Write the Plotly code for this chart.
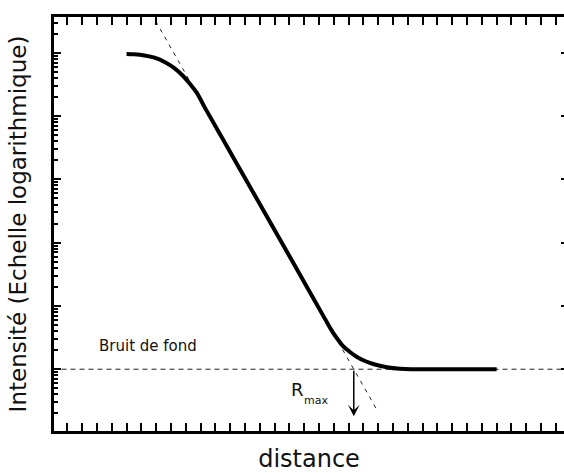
import plotly.graph_objects as go
import numpy as np

# ---- data ----
curve_x = [1.0, 1.108, 1.244, 1.379, 1.514, 1.650, 1.758, 1.853, 1.948, 2.056,
           2.3, 2.6, 2.9, 3.2, 3.5, 3.679, 3.787, 3.855, 3.923, 4.018, 4.113,
           4.221, 4.356, 4.518, 4.694, 4.897, 5.4, 6.0]
curve_log = [5.98, 5.975, 5.956, 5.921, 5.853, 5.754, 5.640, 5.513, 5.368, 5.136,
             4.636, 4.020, 3.403, 2.787, 2.170, 1.799, 1.583, 1.469, 1.367, 1.272, 1.193,
             1.130, 1.074, 1.030, 1.006, 1.0, 1.0, 1.0]
curve_y = [10 ** v for v in curve_log]

background = 10.0            # bruit de fond
tangent_x = [1.394, 4.380]
tangent_y = [10 ** 6.498, 10 ** 0.363]
r_max = 4.07
arrow_tip = 1.8

x_range = [0.02, 6.91]
y_range_log = [0.024, 6.564]

FONT = "DejaVu Sans"
INK = "#111111"

fig = go.Figure()

fig.add_trace(go.Scatter(x=[0, 7], y=[background, background], mode="lines",
                         line=dict(color="#222222", width=1, dash="5px,4px"),
                         hoverinfo="skip", showlegend=False))
fig.add_trace(go.Scatter(x=tangent_x, y=tangent_y, mode="lines",
                         line=dict(color="#222222", width=1, dash="4px,5px"),
                         hoverinfo="skip", showlegend=False))
fig.add_trace(go.Scatter(x=curve_x, y=curve_y, mode="lines",
                         line=dict(color="black", width=4, shape="spline", smoothing=1.0),
                         hoverinfo="skip", showlegend=False))
# hidden trace to carry the right-hand tick axis
fig.add_trace(go.Scatter(x=[None], y=[None], yaxis="y2", mode="lines",
                         hoverinfo="skip", showlegend=False))

fig.add_annotation(x=r_max, y=np.log10(arrow_tip), ax=r_max, ay=np.log10(background),
                   xref="x", yref="y", axref="x", ayref="y", text="", showarrow=True,
                   arrowhead=3, arrowsize=1.3, arrowwidth=1.5, arrowcolor="black")
fig.add_annotation(x=0.607, y=1.366, xref="x", yref="y", text="Bruit de fond",
                   showarrow=False, xanchor="left", yanchor="middle",
                   font=dict(family=FONT, size=15, color=INK))
fig.add_annotation(x=3.19, y=0.68, xref="x", yref="y", text="R",
                   showarrow=False, xanchor="left", yanchor="middle",
                   font=dict(family=FONT, size=18, color=INK))
fig.add_annotation(x=3.37, y=0.50, xref="x", yref="y", text="max",
                   showarrow=False, xanchor="left", yanchor="middle",
                   font=dict(family=FONT, size=11, color=INK))

fig.update_layout(
    width=564, height=473,
    margin=dict(l=54, r=0, t=17, b=42),
    plot_bgcolor="white", paper_bgcolor="white",
    xaxis=dict(range=x_range, showgrid=False, zeroline=False,
               showline=True, linewidth=3, linecolor="black", mirror="allticks",
               ticks="inside", ticklen=8, tickwidth=2, tickcolor="black", dtick=1, tick0=0,
               showticklabels=False,
               minor=dict(ticks="inside", ticklen=4, tickwidth=2, tickcolor="black", dtick=0.2),
               title=dict(text="distance", standoff=20,
                          font=dict(family=FONT, size=24, color=INK))),
    yaxis=dict(type="log", range=y_range_log, showgrid=False, zeroline=False,
               showline=True, linewidth=3, linecolor="black",
               ticks="inside", ticklen=7, tickwidth=2, tickcolor="black", dtick=1,
               showticklabels=False,
               minor=dict(ticks="inside", ticklen=4, tickwidth=2, tickcolor="black", dtick="D1"),
               title=dict(text="Intensité (Echelle logarithmique)", standoff=18,
                          font=dict(family=FONT, size=23, color=INK))),
    yaxis2=dict(type="log", range=y_range_log, overlaying="y", side="right",
                showgrid=False, zeroline=False, showline=False,
                ticks="inside", ticklen=3, tickwidth=2, tickcolor="black", dtick=1,
                showticklabels=False),
)

fig.write_html("out.html", config={"displayModeBar": False},
               post_script="document.body.style.margin='0';document.body.style.overflow='hidden';")
